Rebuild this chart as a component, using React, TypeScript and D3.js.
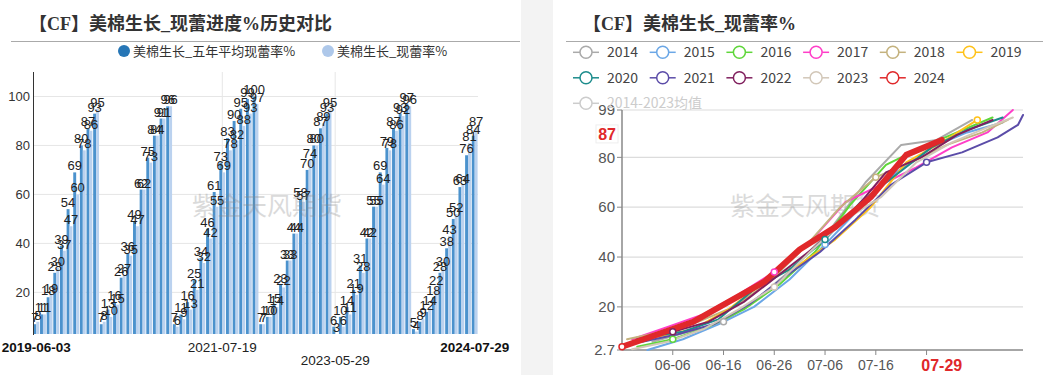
import * as d3 from 'd3'
import React, { useEffect, useRef } from 'react'

// ---- left chart: squaring % vs five-year average, 2019-2024 ----
const barYears = [2019, 2020, 2021, 2022, 2023, 2024]
const barStarts = ['06-03', '06-01', '05-31', '05-30', '05-29', '05-27']
const avg2019 = [7, 11, 18, 28, 39, 54, 69, 80, 87, 93]
const avg2020 = [7, 13, 16, 26, 36, 49, 62, 75, 84, 91, 96]
const avg2021 = [7, 11, 16, 25, 34, 46, 61, 73, 83, 90, 95, 99, 100]
const avg2022 = [7, 10, 15, 23, 33, 44, 58, 70, 80, 87, 93]
const avg2023 = [6, 10, 14, 21, 31, 42, 55, 69, 79, 87, 93, 97]
const avg2024 = [5, 8, 12, 18, 28, 38, 50, 63, 76, 84]

// ---- squaring % per year (right chart, and current bars of the left one) ----
const sq2014 = [6, 10, 14, 24, 36, 51, 70, 85, 87, 95]
const sq2015 = [2.7, 7, 13, 20, 31, 45, 60, 74, 84, 90, 94]
const sq2016 = [4, 7, 12, 19, 29, 42, 61, 77, 84, 90, 96]
const sq2017 = [7, 12, 17, 25, 34, 46, 62, 69, 76, 84, 90, 99]
const sq2018 = [7, 10, 14, 20, 30, 44, 60, 72, 78, 85, 90, 95]
const sq2019 = [8, 11, 19, 30, 37, 47, 60, 78, 86, 95]
const sq2020 = [8, 10, 15, 27, 35, 47, 62, 73, 84, 91, 96]
const sq2021 = [6, 9, 13, 21, 32, 42, 55, 69, 78, 82, 88, 93, 97]
const sq2022 = [7, 10, 14, 22, 33, 44, 57, 74, 80, 89, 95]
const sq2023 = [3, 6, 11, 19, 28, 42, 55, 64, 78, 86, 92, 96]
const sq2024 = [4, 9, 14, 22, 30, 43, 52, 64, 81, 87]

const barAvg = [avg2019, avg2020, avg2021, avg2022, avg2023, avg2024]
const barCur = [sq2019, sq2020, sq2021, sq2022, sq2023, sq2024]

const lineYears = [2014, 2015, 2016, 2017, 2018, 2019, 2020, 2021, 2022, 2023, 2024]
const lineStarts = ['06-02', '06-01', '05-30', '05-29', '05-28', '06-03', '06-01', '05-31', '05-30', '05-29', '05-27']
const lineValues = [sq2014, sq2015, sq2016, sq2017, sq2018, sq2019, sq2020, sq2021, sq2022, sq2023, sq2024]
const lineColors = ['#aaaaaa', '#6ba7e6', '#5fd63a', '#ff3ec8', '#c4b27e', '#ffc21a', '#1c8c8c', '#5b4ca8', '#80205e', '#d2c7b8', '#e0282a']
const legendLabels = ['2014', '2015', '2016', '2017', '2018', '2019', '2020', '2021', '2022', '2023', '2024', '2014-2023均值']

const leftYTicks = [20, 40, 60, 80, 100]
const leftXLabels = ['2019-06-03', '2021-07-19', '2023-05-29', '2024-07-29']
const rightYTicks = [2.7, 20, 40, 60, 80, 99]
const rightXLabels = ['06-06', '06-16', '06-26', '07-06', '07-16']
const rightXTickOnly = ['07-26']
const latestDate = '07-29'

const leftTitle = '【CF】美棉生长_现蕾进度%历史对比'
const rightTitle = '【CF】美棉生长_现蕾率%'
const barLegend = ['美棉生长_五年平均现蕾率%', '美棉生长_现蕾率%']
const watermark = '紫金天风期货'

const CJK = "'Noto Sans CJK SC', sans-serif"
const LATIN = "'Liberation Sans', Arial, sans-serif"
const TITLE = "'Liberation Serif', 'Noto Sans CJK SC', serif"

const fmtFull = d3.timeFormat('%Y-%m-%d')
const fmtMd = d3.timeFormat('%m-%d')

function weekDates(year: number, start: string, n: number) {
    const [m, d] = start.split('-').map(Number)
    return d3.range(n).map((i) => new Date(year, m - 1, d + 7 * i))
}

const App = (): JSX.Element => {
    const ref = useRef<SVGSVGElement>(null)

    useEffect(() => {
        const svg = d3.select(ref.current)
        svg.selectAll('*').remove()

        // gap between the two panels
        svg.append('rect').attr('x', 521).attr('y', 0).attr('width', 32).attr('height', 375).attr('fill', '#f3f3f3')

        // ================= left chart =================
        const L = svg.append('g')
        L.append('text')
            .attr('x', 29)
            .attr('y', 30)
            .attr('font-family', TITLE)
            .attr('font-weight', 'bold')
            .attr('font-size', 18)
            .attr('fill', '#333')
            .text(leftTitle)
        L.append('line').attr('x1', 11).attr('x2', 520).attr('y1', 41.5).attr('y2', 41.5).attr('stroke', '#aaa')

        const legendColors = ['#2676b6', '#aec8ea']
        const legendX = [124, 328]
        barLegend.forEach((t, i) => {
            L.append('circle').attr('cx', legendX[i]).attr('cy', 51).attr('r', 6).attr('fill', legendColors[i])
            L.append('text')
                .attr('x', legendX[i] + 9)
                .attr('y', 56)
                .attr('font-family', CJK)
                .attr('font-size', 13)
                .attr('fill', '#333')
                .text(t)
        })

        const bars = [] as any[]
        barYears.forEach((yr, i) => {
            weekDates(yr, barStarts[i], barCur[i].length).forEach((dt, j) => {
                bars.push({ key: fmtFull(dt), avg: barAvg[i][j], cur: barCur[i][j] })
            })
        })
        const minL = d3.min(bars, (b) => Math.min(b.avg, b.cur)) as number
        const xL = d3.scaleBand().domain(bars.map((b) => b.key)).range([33, 478]).paddingInner(0)
        const yL = d3.scaleLinear().domain([minL, 110]).range([334, 72])
        const bw = xL.bandwidth()

        leftYTicks.forEach((t) => {
            L.append('line').attr('x1', 33).attr('x2', 478).attr('y1', yL(t)).attr('y2', yL(t)).attr('stroke', '#e6e6e6')
            L.append('text')
                .attr('x', 30)
                .attr('y', yL(t))
                .attr('dy', '0.35em')
                .attr('text-anchor', 'end')
                .attr('font-family', LATIN)
                .attr('font-size', 13)
                .attr('fill', '#333')
                .text(t)
        })
        leftXLabels.slice(1, -1).forEach((k) => {
            const cx = (xL(k) as number) + bw / 2
            L.append('line').attr('x1', cx).attr('x2', cx).attr('y1', 72).attr('y2', 334).attr('stroke', '#e6e6e6')
        })

        const gBars = L.append('g')
        bars.forEach((b) => {
            const x0 = xL(b.key) as number
            gBars.append('rect').attr('x', x0 + bw * 0.06).attr('width', bw * 0.44).attr('y', yL(b.avg)).attr('height', 334 - yL(b.avg)).attr('fill', '#4b92cd')
            gBars.append('rect').attr('x', x0 + bw * 0.5).attr('width', bw * 0.44).attr('y', yL(b.cur)).attr('height', 334 - yL(b.cur)).attr('fill', '#bbd2ef')
        })
        const gLab = L.append('g').attr('font-family', LATIN).attr('font-size', 13).attr('fill', '#222').attr('text-anchor', 'middle')
        bars.forEach((b) => {
            const x0 = xL(b.key) as number
            gLab.append('text').attr('x', x0 + bw * 0.28).attr('y', yL(b.avg) - 2).text(b.avg)
            gLab.append('text').attr('x', x0 + bw * 0.72).attr('y', yL(b.cur) - 2).text(b.cur)
        })

        L.append('line').attr('x1', 33.5).attr('x2', 33.5).attr('y1', 72).attr('y2', 335).attr('stroke', '#333')

        const labelRow = [0, 0, 1, 0]
        leftXLabels.forEach((k, i) => {
            const edge = i === 0 || i === leftXLabels.length - 1
            L.append('text')
                .attr('x', (xL(k) as number) + bw / 2)
                .attr('y', 352 + labelRow[i] * 13)
                .attr('text-anchor', 'middle')
                .attr('font-family', LATIN)
                .attr('font-size', 13.5)
                .attr('font-weight', edge ? 'bold' : 'normal')
                .attr('fill', edge ? '#111' : '#222')
                .text(k)
        })

        L.append('text')
            .attr('x', 267)
            .attr('y', 215)
            .attr('text-anchor', 'middle')
            .attr('font-family', CJK)
            .attr('font-size', 25)
            .attr('fill', '#888')
            .attr('opacity', 0.3)
            .text(watermark)

        // ================= right chart =================
        const R = svg.append('g')
        R.append('text')
            .attr('x', 583)
            .attr('y', 30)
            .attr('font-family', TITLE)
            .attr('font-weight', 'bold')
            .attr('font-size', 18)
            .attr('fill', '#333')
            .text(rightTitle)
        R.append('line').attr('x1', 566).attr('x2', 1043).attr('y1', 41.5).attr('y2', 41.5).attr('stroke', '#aaa')

        const series = lineYears.map((yr, i) => ({
            year: yr,
            color: lineColors[i],
            points: weekDates(yr, lineStarts[i], lineValues[i].length).map((dt, j) => ({ md: fmtMd(dt), v: lineValues[i][j] })),
        }))
        const cats = Array.from(new Set(series.flatMap((s) => s.points.map((p) => p.md)))).sort()
        const xR = d3.scalePoint().domain(cats).range([622, 1023])
        const allV = series.flatMap((s) => s.points.map((p) => p.v))
        const yR = d3.scaleLinear().domain([d3.min(allV) as number, d3.max(allV) as number]).range([350, 110])

        rightYTicks.forEach((t) => {
            if (t !== rightYTicks[0]) {
                R.append('line').attr('x1', 622).attr('x2', 1023).attr('y1', yR(t)).attr('y2', yR(t)).attr('stroke', '#dcdcdc').attr('stroke-width', 1.2)
            }
            R.append('line').attr('x1', 617).attr('x2', 622).attr('y1', yR(t)).attr('y2', yR(t)).attr('stroke', '#888')
            R.append('text')
                .attr('x', 615)
                .attr('y', yR(t))
                .attr('dy', '0.35em')
                .attr('text-anchor', 'end')
                .attr('font-family', LATIN)
                .attr('font-size', 15)
                .attr('fill', '#555')
                .text(t)
        })

        // axes
        R.append('line').attr('x1', 622).attr('x2', 622).attr('y1', 110).attr('y2', 350).attr('stroke', '#888').attr('stroke-width', 1.5)
        R.append('line').attr('x1', 622).attr('x2', 1023).attr('y1', 350).attr('y2', 350).attr('stroke', '#888').attr('stroke-width', 1.5)
        ;[...rightXLabels, ...rightXTickOnly].forEach((k) => {
            R.append('line').attr('x1', xR(k)).attr('x2', xR(k)).attr('y1', 350).attr('y2', 355).attr('stroke', '#888')
        })
        rightXLabels.forEach((k) => {
            R.append('text')
                .attr('x', xR(k))
                .attr('y', 370)
                .attr('text-anchor', 'middle')
                .attr('font-family', LATIN)
                .attr('font-size', 14)
                .attr('fill', '#555')
                .text(k)
        })
        R.append('text')
            .attr('x', xR(latestDate))
            .attr('y', 371)
            .attr('text-anchor', 'middle')
            .attr('font-family', LATIN)
            .attr('font-size', 16)
            .attr('font-weight', 'bold')
            .attr('fill', '#e0282a')
            .text(latestDate)

        R.append('text')
            .attr('x', 805)
            .attr('y', 215)
            .attr('text-anchor', 'middle')
            .attr('font-family', CJK)
            .attr('font-size', 25)
            .attr('fill', '#888')
            .attr('opacity', 0.3)
            .text(watermark)

        const line = d3
            .line<any>()
            .x((d) => xR(d.md) as number)
            .y((d) => yR(d.v))
        series.forEach((s, i) => {
            const last = i === series.length - 1
            R.append('path')
                .attr('d', line(s.points))
                .attr('fill', 'none')
                .attr('stroke', s.color)
                .attr('stroke-width', last ? 6 : 2)
                .attr('stroke-linejoin', 'round')
                .attr('stroke-linecap', 'round')
        })
        // symbols only on the label interval, as the library does
        series.forEach((s) => {
            s.points
                .filter((p) => cats.indexOf(p.md) % 10 === 0)
                .forEach((p) => {
                    R.append('circle')
                        .attr('cx', xR(p.md))
                        .attr('cy', yR(p.v))
                        .attr('r', 3)
                        .attr('fill', '#fff')
                        .attr('stroke', s.color)
                        .attr('stroke-width', 1.5)
                })
        })

        // latest value marker on the y axis
        const cur = sq2024[sq2024.length - 1]
        R.append('rect').attr('x', 596).attr('y', yR(cur) - 15).attr('width', 22).attr('height', 18).attr('fill', '#fff').attr('stroke', '#eee')
        R.append('text')
            .attr('x', 616)
            .attr('y', yR(cur) - 6)
            .attr('dy', '0.35em')
            .attr('text-anchor', 'end')
            .attr('font-family', LATIN)
            .attr('font-size', 16)
            .attr('font-weight', 'bold')
            .attr('fill', '#e0282a')
            .text(cur)

        // legend: wraps like the library (6 per row, the long label on its own row)
        const legendRows = [6, 5, 1]
        let idx = 0
        legendRows.forEach((count, row) => {
            d3.range(count).forEach((col) => {
                const i = idx++
                const t = legendLabels[i]
                const cx = 586 + col * 76.7
                const cy = 52.3 + row * 25.5
                const inactive = i >= lineColors.length
                const c = inactive ? '#ccc' : lineColors[i]
                R.append('line').attr('x1', cx - 13).attr('x2', cx + 13).attr('y1', cy).attr('y2', cy).attr('stroke', c).attr('stroke-width', 1.5)
                R.append('circle').attr('cx', cx).attr('cy', cy).attr('r', 6).attr('fill', '#fff').attr('stroke', c).attr('stroke-width', 1.5)
                R.append('text')
                    .attr('x', cx + 21)
                    .attr('y', cy + 5)
                    .attr('font-family', CJK)
                    .attr('font-size', 14)
                    .attr('fill', inactive ? '#ccc' : '#444')
                    .text(t)
            })
        })
    }, [])

    return (
        <div style={{ position: 'absolute', left: 0, top: 0 }}>
            <svg ref={ref} width={1046} height={375} style={{ display: 'block', background: '#fff' }} />
        </div>
    )
}

export default App
